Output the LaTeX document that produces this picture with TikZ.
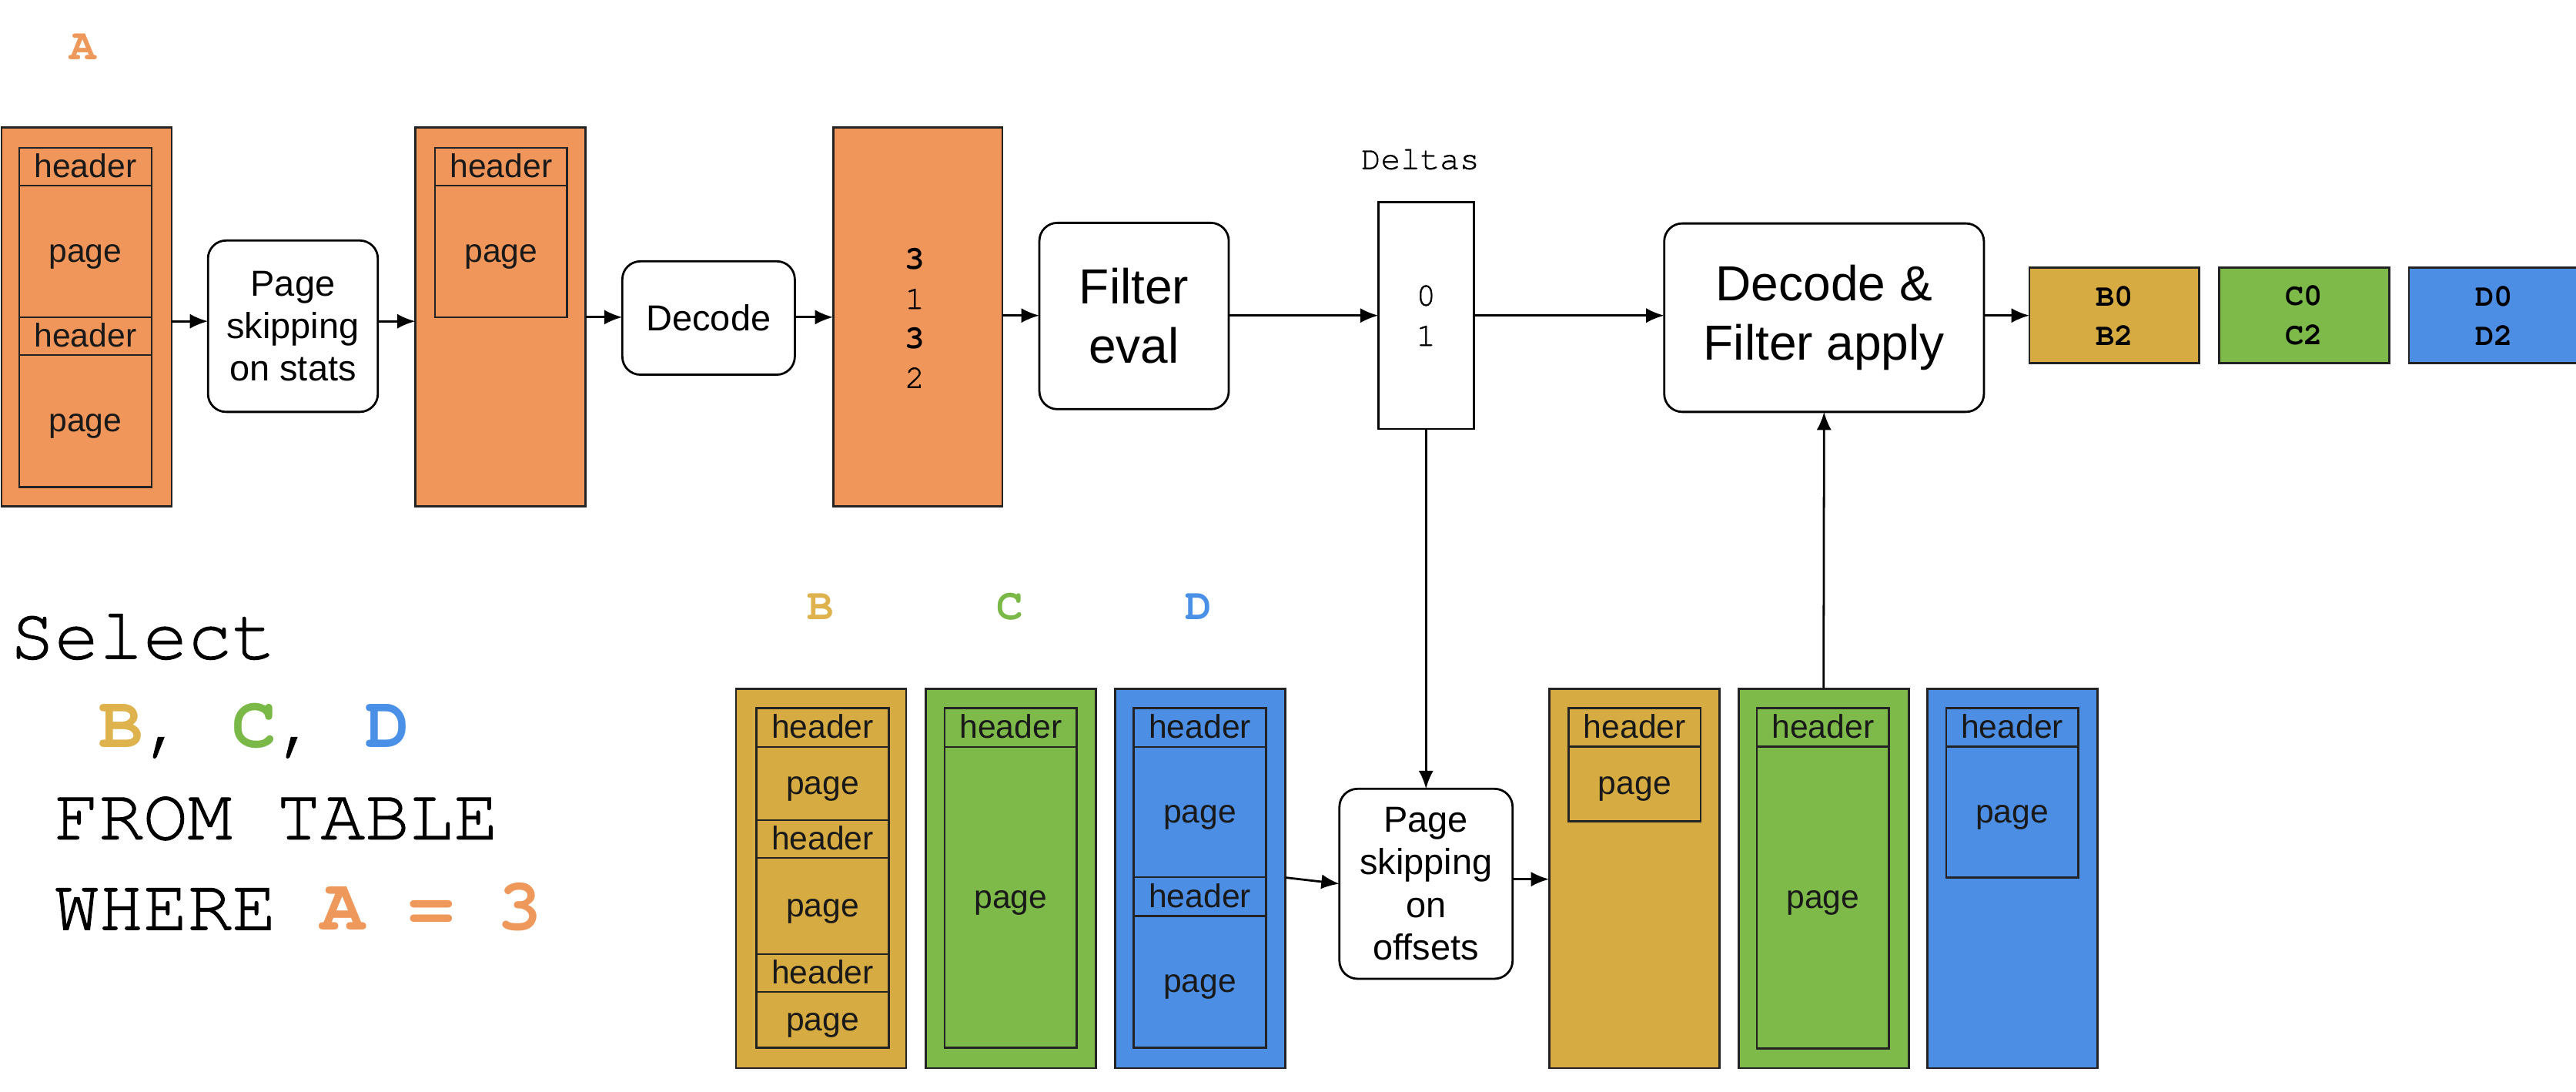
\documentclass[tikz,border=0pt]{standalone}
\usepackage{fontspec}
\setmainfont{Liberation Sans}
\setmonofont{TeX Gyre Cursor}[UprightFeatures={FakeBold=1}]
\usetikzlibrary{arrows.meta}
\definecolor{aorange}{RGB}{240,150,90}
\definecolor{bgold}{RGB}{214,172,66}
\definecolor{cgreen}{RGB}{126,186,74}
\definecolor{dblue}{RGB}{76,142,228}
\definecolor{lorange}{RGB}{238,152,92}
\definecolor{lgold}{RGB}{222,178,76}
\definecolor{lgreen}{RGB}{122,184,72}
\definecolor{lblue}{RGB}{74,144,230}
\definecolor{edge}{RGB}{35,35,35}
\newcommand\mkcell[5]{%
  \pgfmathsetmacro\mycellh{#4-#3}%
  \pgfmathsetmacro\mycellc{(#3+#4)/2}%
  \node[cell, minimum height=\mycellh pt] (#1) at (#2,\mycellc) {#5};}
\tikzset{
  colbox/.style={draw=edge, line width=1.3pt, minimum width=103.6pt, minimum height=230.6pt, inner sep=0pt, outer sep=0pt},
  cell/.style={draw=edge, line width=1.2pt, minimum width=80.5pt, inner sep=0pt, outer sep=0pt, text=black!90, font=\fontsize{20}{24}\selectfont, text height=17pt, text depth=4pt},
  procbox/.style={draw=black, line width=1.3pt, fill=white, rounded corners=11pt, align=center, inner sep=0pt, outer sep=0pt, font=\fontsize{22}{25.7}\selectfont},
  bigproc/.style={procbox, font=\fontsize{30}{36}\selectfont},
  deltabox/.style={draw=black, line width=1.3pt, fill=white, inner sep=0pt, outer sep=0pt, minimum width=58pt, minimum height=138pt, align=center, font=\fontsize{20}{24.5}\selectfont\ttfamily},
  outbox/.style={draw=edge, line width=1.3pt, inner sep=0pt, outer sep=0pt, minimum width=103.4pt, minimum height=58pt, align=center, font=\fontsize{19}{24}\selectfont\ttfamily\bfseries},
  digits/.style={inner sep=0pt, align=center, font=\fontsize{20}{24}\selectfont\ttfamily},
  collabel/.style={inner sep=0pt, font=\fontsize{27}{27}\selectfont\ttfamily\bfseries},
  monolabel/.style={inner sep=0pt, font=\fontsize{20}{20}\selectfont\ttfamily},
  sqltext/.style={inner sep=0pt, anchor=base west, font=\fontsize{45}{45}\selectfont\ttfamily\frenchspacing},
  arr/.style={line width=1.3pt, draw=black, -{Latex[length=11pt,width=9pt]}},
}
\begin{document}
\begin{tikzpicture}[x=1pt,y=-1pt]
\useasboundingbox (0,0) rectangle (1568,664.05);

% ---------- top row : column A ----------
\node[collabel, text=lorange] (labA) at (50.5,28.5) {A};

\node[colbox, fill=aorange, minimum width=103.6pt] (A1) at (52.7,192.7) {};
\mkcell{A1h1}{52}{90}{113}{header}
\mkcell{A1p1}{52}{113}{193}{page}
\mkcell{A1h2}{52}{193}{216}{header}
\mkcell{A1p2}{52}{216}{296.5}{page}

\node[procbox, minimum width=103.4pt, minimum height=104.3pt] (PSS) at (178.3,198.5) {Page\\skipping\\on stats};

\node[colbox, fill=aorange] (A2) at (304.6,192.7) {};
\mkcell{A2h1}{305}{90}{113}{header}
\mkcell{A2p1}{305}{113}{193}{page}

\node[procbox, minimum width=105pt, minimum height=69pt] (Dec) at (431.3,193.5) {Decode};

\node[colbox, fill=aorange, minimum width=103pt] (A3) at (558.6,192.7) {};
\node[digits] (A3t) at (556.8,193.6) {\textbf{3}\\1\\\textbf{3}\\2};

\node[bigproc, minimum width=115.3pt, minimum height=113.4pt] (Fil) at (690.3,192.3) {Filter\\eval};

\node[monolabel] (DelLbl) at (864.5,97) {Deltas};
\node[deltabox] (Del) at (868,192) {0\\1};

\node[bigproc, minimum width=194.6pt, minimum height=114.7pt] (DFA) at (1110.3,193.3) {Decode \&\\Filter apply};

\node[outbox, fill=bgold] (B0) at (1287,192) {B0\\B2};
\node[outbox, fill=cgreen] (C0) at (1402.5,192) {C0\\C2};
\node[outbox, fill=dblue] (D0) at (1518,192) {D0\\D2};

% ---------- query ----------
\node[sqltext] (sel1) at (6,400.8) {Select};
\node[sqltext] (sel2) at (60,454.6) {\textcolor{lgold}{\bfseries B}, \textcolor{lgreen}{\bfseries C}, \textcolor{lblue}{\bfseries D}};
\node[sqltext] (sel3) at (33,510.7) {FROM TABLE};
\node[sqltext] (sel4) at (33,565.8) {WHERE \textcolor{lorange}{\bfseries A = 3}};

% ---------- bottom row : columns B, C, D ----------
\node[collabel, text=lgold] (labB) at (499.6,369) {B};
\node[collabel, text=lgreen] (labC) at (614.8,369) {C};
\node[collabel, text=lblue] (labD) at (729.6,369) {D};

\node[colbox, fill=bgold, minimum height=231pt] (B) at (499.8,534.5) {};
\mkcell{Bh1}{500.7}{431}{454.6}{header}
\mkcell{Bp1}{500.7}{454.6}{499}{page}
\mkcell{Bh2}{500.7}{499}{522}{header}
\mkcell{Bp2}{500.7}{522}{580.6}{page}
\mkcell{Bh3}{500.7}{580.6}{603.6}{header}
\mkcell{Bp3}{500.7}{603.6}{637.6}{page}

\node[colbox, fill=cgreen, minimum height=231pt] (C) at (615.3,534.5) {};
\mkcell{Ch1}{615.2}{431}{454.6}{header}
\mkcell{Cp1}{615.2}{454.6}{637.6}{page}

\node[colbox, fill=dblue, minimum height=231pt] (D) at (730.6,534.5) {};
\mkcell{Dh1}{730.4}{431}{454.6}{header}
\mkcell{Dp1}{730.4}{454.6}{533.8}{page}
\mkcell{Dh2}{730.4}{533.8}{557.4}{header}
\mkcell{Dp2}{730.4}{557.4}{637.6}{page}

\node[procbox, minimum width=105.4pt, minimum height=115.6pt, font=\fontsize{22}{26}\selectfont] (PSO) at (868,537.8) {Page\\skipping\\on\\offsets};

\node[colbox, fill=bgold, minimum height=231pt] (Bp) at (994.75,534.5) {};
\mkcell{Bph1}{995}{431}{454.4}{header}
\mkcell{Bpp1}{995}{454.4}{499.7}{page}

\node[colbox, fill=cgreen, minimum height=231pt] (Cp) at (1110,534.5) {};
\mkcell{Cph1}{1109.6}{431}{454.4}{header}
\mkcell{Cpp1}{1109.6}{454.4}{638}{page}

\node[colbox, fill=dblue, minimum height=231pt] (Dp) at (1224.8,534.5) {};
\mkcell{Dph1}{1224.8}{431}{454.4}{header}
\mkcell{Dpp1}{1224.8}{454.4}{534}{page}

% ---------- connectors ----------
\coordinate (r1) at (0,195.5);
\coordinate (r2) at (0,193);
\coordinate (r3) at (0,192);
\coordinate (r4) at (0,534);
\coordinate (r5) at (0,535);
\draw[arr] (A1.east |- r1) -- (PSS.west |- r1);
\draw[arr] (PSS.east |- r1) -- (A2.west |- r1);
\draw[arr] (A2.east |- r2) -- (Dec.west |- r2);
\draw[arr] (Dec.east |- r2) -- (A3.west |- r2);
\draw[arr] (A3.east |- r3) -- (Fil.west |- r3);
\draw[arr] (Fil.east |- r3) -- (Del.west |- r3);
\draw[arr] (Del.east |- r3) -- (DFA.west |- r3);
\draw[arr] (DFA.east |- r3) -- (B0.west |- r3);
\draw[arr] (Del.south) -- (PSO.north);
\draw[arr] (D.east |- r4) -- (PSO.west);
\draw[arr] (PSO.east |- r5) -- (Bp.west |- r5);
\draw[arr] (Cp.north) -- (DFA.south);
\end{tikzpicture}
\end{document}
